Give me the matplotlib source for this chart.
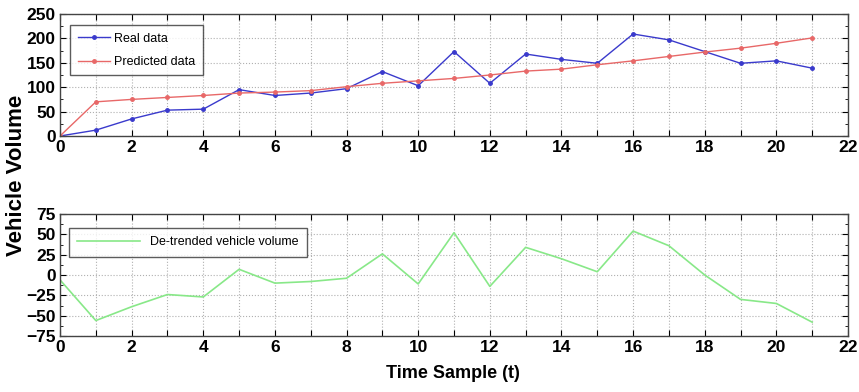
import matplotlib
matplotlib.use("Agg")
import matplotlib.pyplot as plt
from matplotlib.ticker import MultipleLocator

plt.rcParams['font.family'] = ['Liberation Sans', 'DejaVu Sans']

t = list(range(22))
real = [0, 12, 35, 53, 55, 95, 83, 88, 97, 132, 103, 173, 108, 168, 157, 149, 209, 197, 173, 149, 154, 139]
predicted = [0, 70, 75, 79, 83, 88, 90, 93, 101, 108, 113, 118, 125, 133, 137, 146, 154, 163, 172, 180, 190, 201]
detrended = [-6, -56, -39, -24, -27, 7, -10, -8, -4, 26, -11, 52, -14, 34, 20, 4, 54, 36, 0, -30, -35, -58]

xticks = list(range(0, 23))
xlabels = [str(v) if v % 2 == 0 else '' for v in xticks]

fig = plt.figure(figsize=(8.59, 3.92), dpi=100)
ax1 = fig.add_axes([60/859, 1-136/392, 788/859, 122/392])
ax2 = fig.add_axes([60/859, 1-336/392, 788/859, 122/392])

ax1.plot(t, real, color='#3a3acc', marker='.', markersize=5, lw=1, label='Real data')
ax1.plot(t, predicted, color='#e86868', marker='.', markersize=5, lw=1, label='Predicted data')
ax2.plot(t, detrended, color='#88e888', lw=1.2, label='De-trended vehicle volume')

ax1.set_ylim(0, 250)
ax1.yaxis.set_major_locator(MultipleLocator(50))
ax1.yaxis.set_minor_locator(MultipleLocator(25))
ax2.set_ylim(-75, 75)
ax2.yaxis.set_major_locator(MultipleLocator(25))
ax2.yaxis.set_minor_locator(MultipleLocator(12.5))

for ax in (ax1, ax2):
    ax.set_xlim(0, 22)
    ax.set_xticks(xticks)
    ax.set_xticklabels(xlabels)
    ax.grid(True, which='major', linestyle=':', color='#b0b0b0', lw=0.8)
    ax.tick_params(which='both', direction='in', top=True, right=True, labelsize=12.5, pad=3)
    ax.tick_params(which='major', length=4)
    ax.tick_params(which='minor', length=2)
    for lbl in ax.get_xticklabels() + ax.get_yticklabels():
        lbl.set_fontweight('bold')
    for s in ax.spines.values():
        s.set_color('#444444')
        s.set_linewidth(1.0)

leg1 = ax1.legend(loc='upper left', fontsize=9, frameon=True, fancybox=False,
                  edgecolor='#333333', handlelength=2.6, handletextpad=0.3,
                  borderpad=0.6, labelspacing=0.9, bbox_to_anchor=(0.005, 0.96))
leg1.get_frame().set_linewidth(1.0)
leg2 = ax2.legend(loc='upper left', fontsize=9, frameon=True, fancybox=False,
                  edgecolor='#333333', handlelength=5, borderpad=0.7,
                  bbox_to_anchor=(0.003, 0.94))
leg2.get_frame().set_linewidth(1.0)

fig.text(17/859, 1-175/392, 'Vehicle Volume', rotation=90, ha='center', va='center',
         fontsize=16, fontweight='bold')
fig.text(453/859, 1-373/392, 'Time Sample (t)', ha='center', va='center',
         fontsize=13, fontweight='bold')

fig.savefig('out.png', dpi=100)
